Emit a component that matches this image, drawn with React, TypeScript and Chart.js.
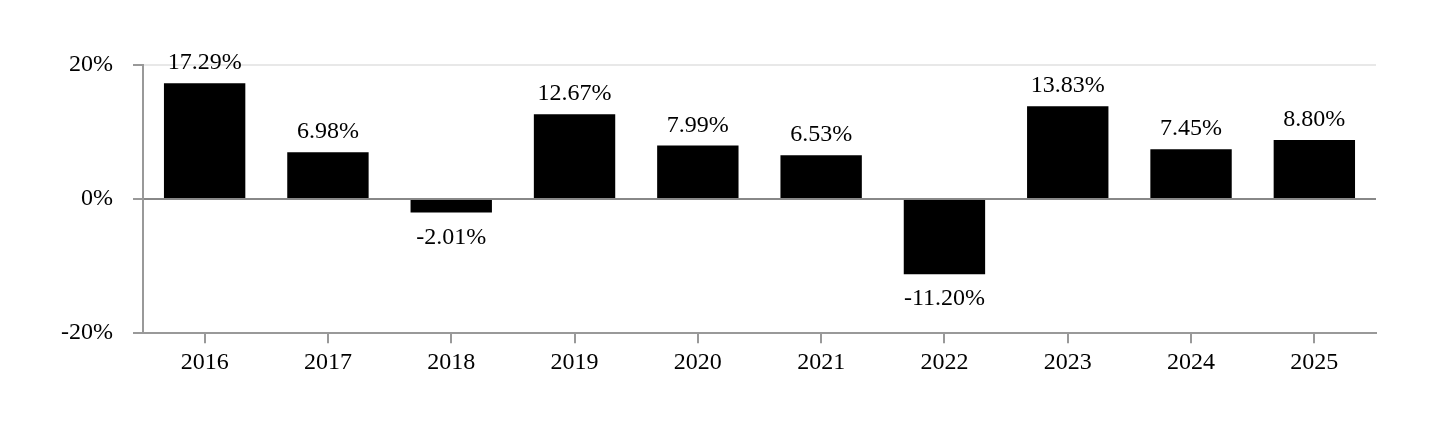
import React, { useEffect, useRef } from "react";
import { Chart, registerables } from "chart.js";

Chart.register(...registerables);

const categories = ["2016", "2017", "2018", "2019", "2020", "2021", "2022", "2023", "2024", "2025"];
const returns = [17.29, 6.98, -2.01, 12.67, 7.99, 6.53, -11.2, 13.83, 7.45, 8.8];
const yTicks = [-20, 0, 20];

const FONT = "'Liberation Serif', 'Times New Roman', serif";
const FS = 24;

const valueLabels = {
  id: "valueLabels",
  afterDatasetsDraw(chart: any) {
    const ctx = chart.ctx;
    const meta = chart.getDatasetMeta(0);
    ctx.save();
    ctx.font = `${FS}px ${FONT}`;
    ctx.fillStyle = "#000";
    ctx.textAlign = "center";
    ctx.textBaseline = "alphabetic";
    meta.data.forEach((bar: any, i: number) => {
      const v = returns[i];
      const txt = v.toFixed(2) + "%";
      if (v >= 0) {
        ctx.fillText(txt, bar.x, bar.y - 14);
      } else {
        ctx.fillText(txt, bar.x, bar.y + 31);
      }
    });
    ctx.restore();
  },
};

export default function App() {
  const ref = useRef<HTMLCanvasElement | null>(null);
  useEffect(() => {
    if (!ref.current) return;
    const chart = new Chart(ref.current, {
      type: "bar",
      data: {
        labels: categories,
        datasets: [
          {
            data: returns,
            backgroundColor: "#000",
            borderWidth: 0,
            barPercentage: 0.66,
            categoryPercentage: 1.0,
          },
        ],
      },
      options: {
        animation: false,
        responsive: true,
        maintainAspectRatio: false,
        layout: { padding: { left: 33, right: 56, top: 57, bottom: 50 } },
        plugins: { legend: { display: false }, tooltip: { enabled: false } },
        scales: {
          x: {
            grid: { display: true, offset: false, drawOnChartArea: false, tickLength: 10, tickColor: "#999", lineWidth: 2 },
            border: { color: "#999", width: 2 },
            ticks: { color: "#000", font: { family: FONT, size: FS }, padding: 5 },
          },
          y: {
            min: -20,
            max: 20,
            afterBuildTicks(axis: any) {
              axis.ticks = yTicks.map((v) => ({ value: v }));
            },
            grid: {
              color: (c: any) => (c.tick && c.tick.value === 0 ? "#888" : "#e8e8e8"),
              lineWidth: 2,
              tickLength: 10,
              tickColor: "#999",
            },
            border: { color: "#999", width: 2 },
            ticks: {
              color: "#000",
              font: { family: FONT, size: FS },
              padding: 20,
              callback: (v: any) => v + "%",
            },
          },
        },
      },
      plugins: [valueLabels],
    });
    return () => chart.destroy();
  }, []);
  return (
    <div style={{ width: "1424px", height: "424px", position: "relative" }}>
      <canvas ref={ref} />
    </div>
  );
}
